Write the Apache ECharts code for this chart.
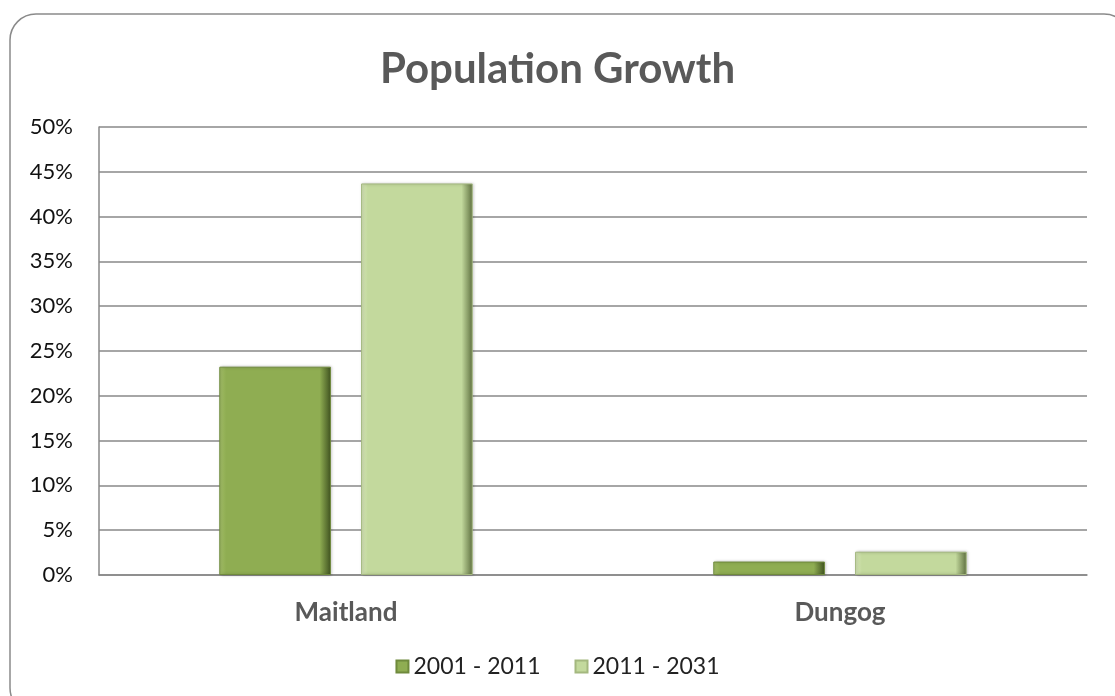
<!DOCTYPE html>
<html><head><meta charset="utf-8">
<script src="https://cdn.jsdelivr.net/npm/echarts@6/dist/echarts.min.js"></script>
<style>html,body{margin:0;padding:0;background:#fff}#c{width:1115px;height:696px}</style>
</head><body><div id="c"></div>
<script>
const categories = ['Maitland', 'Dungog'];
const seriesNames = ['2001 - 2011', '2011 - 2031'];
const growth2001_2011 = [23.25, 1.5];
const growth2011_2031 = [43.7, 2.6];
const yTicks = [0, 5, 10, 15, 20, 25, 30, 35, 40, 45, 50];

function grad(hi, base, dark) {
  return new echarts.graphic.LinearGradient(0, 0, 1, 0, [
    {offset: 0, color: hi}, {offset: 0.06, color: base}, {offset: 0.9, color: base}, {offset: 1, color: dark}
  ]);
}
const chart = echarts.init(document.getElementById('c'));
chart.setOption({
  animation: false,
  textStyle: {fontFamily: 'Lato'},
  graphic: [{type: 'rect', shape: {x: 10, y: 14, width: 1120, height: 700, r: 26}, style: {fill: 'none', stroke: '#8a8a8a', lineWidth: 1.5}, z: -1}],
  title: {text: 'Population Growth', left: 'center', top: 43, textStyle: {fontFamily: 'Lato', fontWeight: 'bold', fontSize: 42, color: '#595959'}},
  legend: {bottom: 13, left: 'center', itemWidth: 12, itemHeight: 12, itemGap: 34, icon: 'rect',
    textStyle: {fontFamily: 'Lato', fontSize: 23, color: '#222'}, data: seriesNames},
  grid: {left: 99, right: 28, top: 127, bottom: 121},
  xAxis: {type: 'category', data: categories, axisTick: {show: false},
    axisLine: {lineStyle: {color: '#888', width: 1.5}},
    axisLabel: {fontFamily: 'Lato', fontWeight: 'bold', fontSize: 26, color: '#595959', margin: 25}},
  yAxis: {type: 'value', min: 0, max: 50, interval: 5,
    axisLine: {show: true, lineStyle: {color: '#888', width: 1.5}},
    axisTick: {show: false},
    splitLine: {lineStyle: {color: '#888', width: 1.5}},
    axisLabel: {fontFamily: 'Lato', fontSize: 22, color: '#111', margin: 26, formatter: v => yTicks.includes(v) ? v + '%' : ''}},
  series: [
    {name: seriesNames[0], type: 'bar', data: growth2001_2011, barWidth: '22.6%', barGap: '27%',
      itemStyle: {color: grad('#a8c46c', '#8fad52', '#3f5220'), borderColor: '#6f8a3c', borderWidth: 1,
        shadowColor: 'rgba(0,0,0,0.25)', shadowBlur: 3, shadowOffsetX: 1}},
    {name: seriesNames[1], type: 'bar', data: growth2011_2031, barWidth: '22.6%',
      itemStyle: {color: grad('#d9e8bb', '#c3d99d', '#5f7040'), borderColor: '#a4b87f', borderWidth: 1,
        shadowColor: 'rgba(0,0,0,0.25)', shadowBlur: 3, shadowOffsetX: 1}}
  ]
});
</script></body></html>
